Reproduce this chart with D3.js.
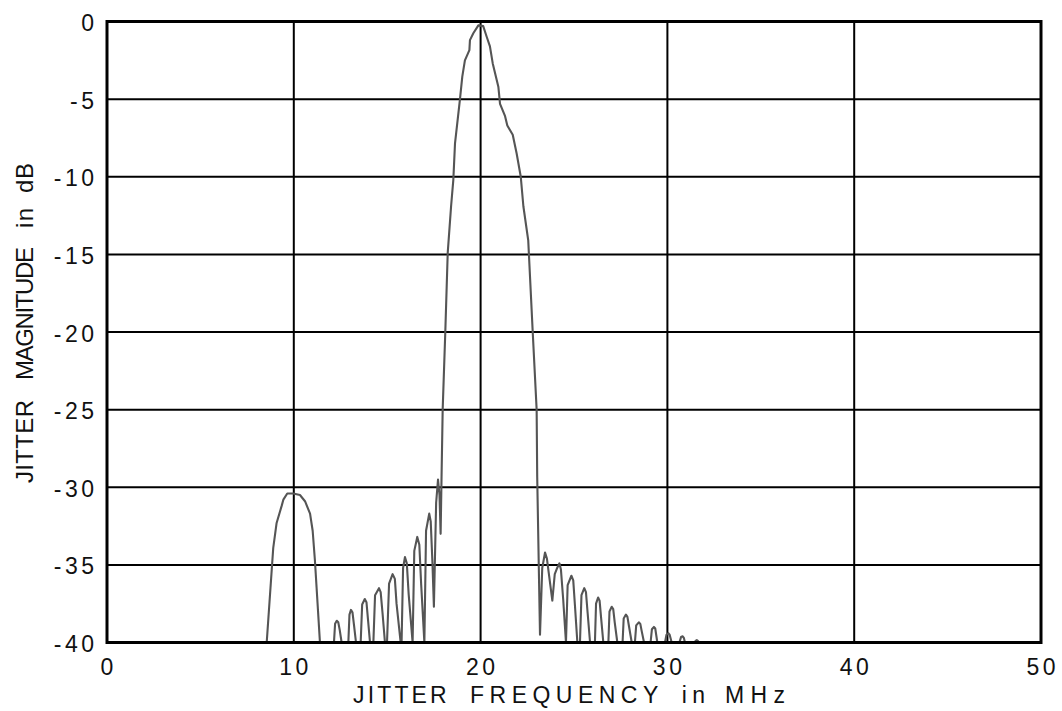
<!DOCTYPE html>
<html>
<head>
<meta charset="utf-8">
<script src="https://cdn.jsdelivr.net/npm/d3@7"></script>
<style>
  html, body { margin: 0; padding: 0; background: #fff; }
  svg { display: block; font-family: "Liberation Sans", Arial, sans-serif; }
</style>
</head>
<body>
<svg id="chart" width="1062" height="711"></svg>
<script>
// Jitter spectrum: frequency (MHz) and magnitude (dB)
const freqMHz = [
  // lobe around 10 MHz
  8.55, 8.9, 9.08, 9.35, 9.44, 9.65, 9.97, 10.33, 10.6, 10.87, 11.01, 11.13, 11.4,
  // lower sidelobes
  12.15, 12.21, 12.3, 12.38, 12.46, 12.56,
  12.92, 12.98, 13.06, 13.14, 13.22, 13.33,
  13.58, 13.66, 13.8, 13.89, 13.97, 14.08,
  14.26, 14.35, 14.56, 14.65, 14.75, 14.88,
  14.99, 15.1, 15.29, 15.41, 15.5, 15.72,
  15.77, 15.85, 15.95, 16.05, 16.15, 16.36,
  16.45, 16.61, 16.72, 16.82, 16.99,
  17.08, 17.25, 17.33, 17.42, 17.5,
  17.62, 17.72, 17.8, 17.86,
  // main lobe at 20 MHz
  17.91, 17.97, 18.11, 18.24, 18.42, 18.54, 18.63, 18.9, 19.02, 19.16, 19.4, 19.43,
  19.61, 19.88, 20.14, 20.33, 20.5, 20.65, 20.95, 21.04, 21.31, 21.43, 21.72, 21.93,
  22.15, 22.29, 22.55, 22.79, 23.0, 23.03, 23.18,
  // upper sidelobes
  23.3, 23.45, 23.55, 23.7, 23.84,
  23.97, 24.1, 24.22, 24.3, 24.42, 24.57,
  24.66, 24.86, 24.96, 25.05, 25.18,
  25.32, 25.4, 25.55, 25.64, 25.73, 25.86,
  26.12, 26.18, 26.29, 26.37, 26.45, 26.57,
  26.84, 26.9, 27.02, 27.1, 27.18, 27.32,
  27.6, 27.66, 27.78, 27.86, 27.95, 28.09,
  28.26, 28.33, 28.47, 28.55, 28.63, 28.75,
  29.1, 29.17, 29.28, 29.35, 29.4, 29.46,
  29.87, 29.95, 30.05, 30.12, 30.23,
  30.64, 30.73, 30.82, 30.88, 30.94,
  31.45, 31.52, 31.57, 31.63, 31.7
];
const magnitudeDb = [
  -40, -33.9, -32.3, -31.2, -30.8, -30.4, -30.4, -30.5, -30.9, -31.7, -32.8, -34.7, -40,
  -40, -38.8, -38.6, -38.7, -39.2, -40,
  -40, -38.2, -37.9, -38.05, -38.85, -40,
  -40, -37.55, -37.2, -37.4, -38.5, -40,
  -40, -36.95, -36.5, -36.75, -38.1, -40,
  -40, -36.2, -35.6, -35.9, -37.5, -40,
  -40, -35.2, -34.5, -34.9, -36.9, -40,
  -34.1, -33.2, -33.7, -36.3, -40,
  -32.8, -31.7, -32.2, -34.8, -37.7,
  -31.0, -29.5, -30.5, -33.0,
  -29.3, -25, -20, -14.9, -11.9, -10.2, -7.85, -4.95, -3.55, -2.5, -1.84, -1.2,
  -0.76, -0.25, -0.3, -1.0, -1.6, -2.7, -4.2, -5.3, -6.1, -6.7, -7.3, -8.5,
  -10.0, -11.9, -14.1, -20, -25, -29.3, -39.5,
  -35.2, -34.2, -34.6, -36.0, -37.3,
  -35.6, -35.2, -34.9, -35.3, -37.2, -40,
  -36.3, -35.7, -36.0, -37.6, -40,
  -40, -36.95, -36.5, -36.75, -38.1, -40,
  -40, -37.5, -37.1, -37.3, -38.4, -40,
  -40, -38.0, -37.7, -37.85, -38.7, -40,
  -40, -38.45, -38.2, -38.35, -39.0, -40,
  -40, -38.9, -38.7, -38.8, -39.3, -40,
  -40, -39.15, -39.0, -39.1, -39.5, -40,
  -40, -39.5, -39.4, -39.5, -40,
  -40, -39.65, -39.6, -39.7, -40,
  -40, -39.88, -39.85, -39.9, -40
];
const xTicks = [0, 10, 20, 30, 40, 50];
const yTicks = [0, -5, -10, -15, -20, -25, -30, -35, -40];
const xTitleWords = ["JITTER", "FREQUENCY", "in", "MHz"];
const yTitleWords = ["JITTER", "MAGNITUDE", "in", "dB"];

const svg = d3.select("#chart");
const plotLeft = 107, plotRight = 1041, plotTop = 21.5, plotBottom = 642.5;

const x = d3.scaleLinear().domain([0, 50]).range([plotLeft, plotRight]);
const y = d3.scaleLinear().domain([-40, 0]).range([plotBottom, plotTop]);

// grid
const grid = svg.append("g").attr("stroke", "#000").attr("stroke-width", 2);
grid.selectAll("line.gx").data(xTicks.slice(1, -1)).join("line")
  .attr("x1", d => x(d)).attr("x2", d => x(d))
  .attr("y1", plotTop).attr("y2", plotBottom);
grid.selectAll("line.gy").data(yTicks.slice(1, -1)).join("line")
  .attr("x1", plotLeft).attr("x2", plotRight)
  .attr("y1", d => y(d)).attr("y2", d => y(d));

// spectrum curve
const pts = freqMHz.map((f, i) => [f, magnitudeDb[i]]);
svg.append("path")
  .datum(pts)
  .attr("fill", "none")
  .attr("stroke", "#555")
  .attr("stroke-width", 2.1)
  .attr("stroke-linejoin", "round")
  .attr("d", d3.line().x(d => x(d[0])).y(d => y(d[1])));

// frame
svg.append("rect")
  .attr("x", plotLeft).attr("y", plotTop)
  .attr("width", plotRight - plotLeft).attr("height", plotBottom - plotTop)
  .attr("fill", "none").attr("stroke", "#000").attr("stroke-width", 3);

// tick labels
const ls = 3.5;
svg.append("g").selectAll("text").data(xTicks).join("text")
  .attr("x", d => x(d) + ls / 2)
  .attr("y", 675)
  .attr("text-anchor", "middle")
  .attr("font-size", 23)
  .attr("letter-spacing", ls)
  .attr("fill", "#111")
  .text(d => d);

svg.append("g").selectAll("text").data(yTicks).join("text")
  .attr("x", 94 + ls)
  .attr("y", d => y(d) + 9.5)
  .attr("text-anchor", "end")
  .attr("font-size", 23)
  .attr("letter-spacing", ls)
  .attr("fill", "#111")
  .text(d => d);

// axis titles, word by word with wide word gaps
const xWordSpan = [[353, 93.7], [470, 188.3], [681.7, 23.3], [725, 60]];
svg.append("g").selectAll("text").data(xTitleWords).join("text")
  .attr("x", (d, i) => xWordSpan[i][0])
  .attr("y", 703)
  .attr("font-size", 23)
  .attr("fill", "#111")
  .attr("textLength", (d, i) => xWordSpan[i][1])
  .attr("lengthAdjust", "spacing")
  .text(d => d);

const yWordSpan = [[483, 83], [380, 133], [228, 20], [193, 30]];
svg.append("g").selectAll("text").data(yTitleWords).join("text")
  .attr("transform", (d, i) => `translate(33,${yWordSpan[i][0]}) rotate(-90)`)
  .attr("font-size", 24)
  .attr("fill", "#111")
  .attr("textLength", (d, i) => yWordSpan[i][1])
  .attr("lengthAdjust", "spacing")
  .text(d => d);
</script>
</body>
</html>
